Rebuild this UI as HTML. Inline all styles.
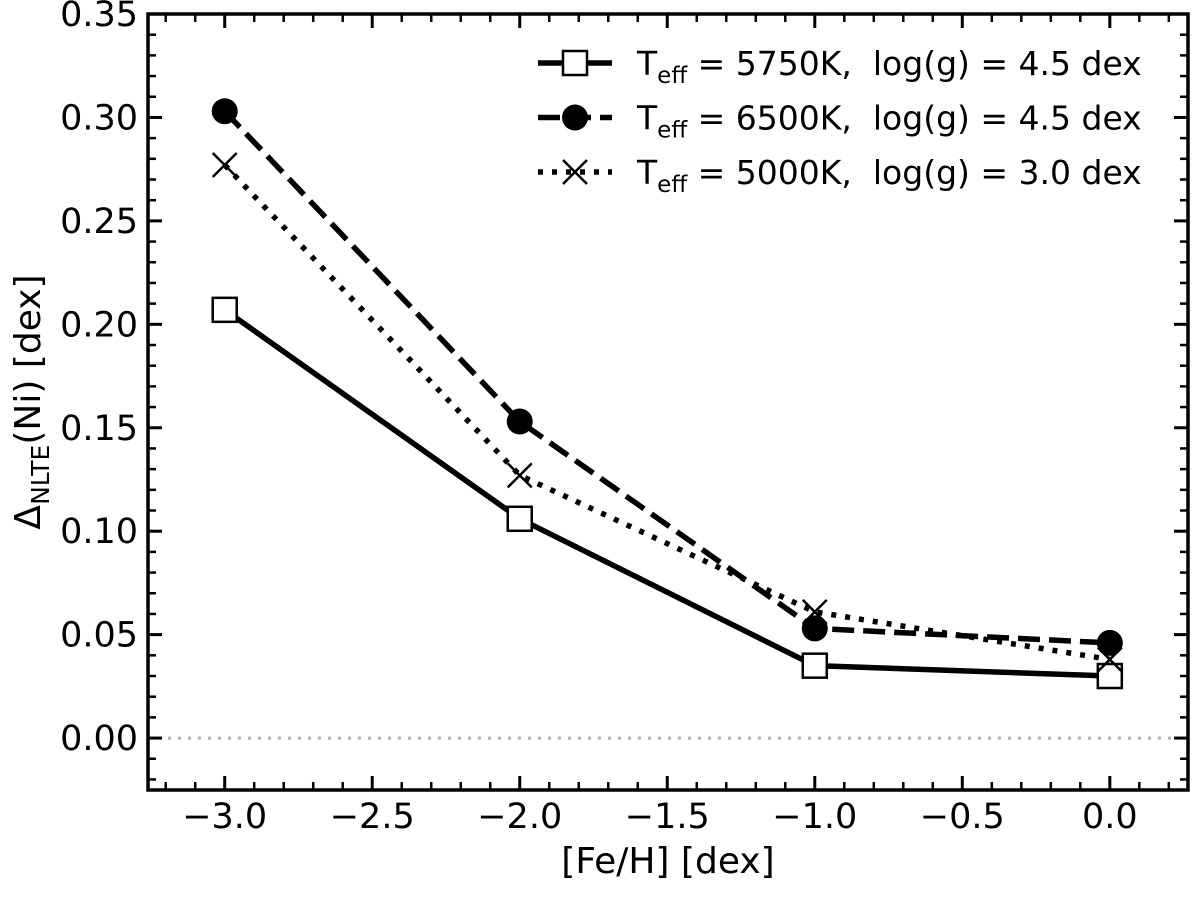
<!DOCTYPE html>
<html><head><meta charset="utf-8"><style>
body{margin:0;background:#fff}
svg text{font-family:"DejaVu Sans","Liberation Sans",sans-serif;fill:#000}
</style></head><body>
<svg id="chart" width="1200" height="892" viewBox="0 0 1200 892" xmlns="http://www.w3.org/2000/svg">
<g id="axes"></g>
<g id="series"></g>
<g id="legend"></g>
</svg>
<script>
const feh = [-3.0, -2.0, -1.0, 0.0];
const s5750 = [0.207, 0.106, 0.035, 0.030];
const s6500 = [0.303, 0.153, 0.053, 0.046];
const s5000 = [0.277, 0.127, 0.061, 0.038];
const xTicks = [-3.0, -2.5, -2.0, -1.5, -1.0, -0.5, 0.0];
const yTicks = [0.00, 0.05, 0.10, 0.15, 0.20, 0.25, 0.30, 0.35];

const L=148,R=1188,T=14,B=790;
const x0=-3.26,x1=0.265,y0=-0.0251,y1=0.35;
const X=v=>L+(v-x0)/(x1-x0)*(R-L);
const Y=v=>B-(v-y0)/(y1-y0)*(B-T);
const NS="http://www.w3.org/2000/svg";
function mk(tag,attrs,parent){const e=document.createElementNS(NS,tag);for(const k in attrs)e.setAttribute(k,attrs[k]);parent.appendChild(e);return e;}
const ax=document.getElementById('axes'),sg=document.getElementById('series'),lg=document.getElementById('legend');

let z=mk('line',{x1:L,x2:R,y1:Y(0),y2:Y(0),stroke:'#b0b0b0','stroke-width':3,'stroke-dasharray':'3 7'},ax);


for(let i=-33;i<=2;i++){const v=i/10,x=X(v);if(x<L||x>R)continue;
 mk('line',{x1:x,x2:x,y1:B,y2:B-8,stroke:'#000','stroke-width':2.5},ax);
 mk('line',{x1:x,x2:x,y1:T,y2:T+8,stroke:'#000','stroke-width':2.5},ax);}
for(let i=-2;i<=35;i++){const v=i/100,y=Y(v);if(y<T||y>B)continue;
 mk('line',{x1:L,x2:L+8,y1:y,y2:y,stroke:'#000','stroke-width':2.5},ax);
 mk('line',{x1:R,x2:R-8,y1:y,y2:y,stroke:'#000','stroke-width':2.5},ax);}
xTicks.forEach(v=>{const x=X(v);
 mk('line',{x1:x,x2:x,y1:B,y2:B-14,stroke:'#000','stroke-width':3},ax);
 mk('line',{x1:x,x2:x,y1:T,y2:T+14,stroke:'#000','stroke-width':3},ax);
 const t=mk('text',{x:x,y:B+38,'font-size':35,'text-anchor':'middle'},ax);
 t.textContent=(v<0?'\u2212':'')+Math.abs(v).toFixed(1);
 
 });
yTicks.forEach(v=>{const y=Y(v);
 mk('line',{x1:L,x2:L+14,y1:y,y2:y,stroke:'#000','stroke-width':3},ax);
 mk('line',{x1:R,x2:R-14,y1:y,y2:y,stroke:'#000','stroke-width':3},ax);
 const t=mk('text',{x:L-10,y:y+12,'font-size':35,'text-anchor':'end'},ax);
 t.textContent=v.toFixed(2);
 
 });
let fr=mk('rect',{x:L,y:T,width:R-L,height:B-T,fill:'none',stroke:'#000','stroke-width':3.5},ax);


let xt=mk('text',{x:(L+R)/2,y:873,'font-size':36,'text-anchor':'middle'},ax);
xt.textContent='[Fe/H] [dex]';


let yt=mk('text',{transform:'translate(40,'+(T+B)/2+') rotate(-90)','font-size':36,'text-anchor':'middle'},ax);
yt.innerHTML='\u0394<tspan font-size="25" dy="9">NLTE</tspan><tspan dy="-9">(Ni) [dex]</tspan>';



function marker(type,x,y,p){
 if(type==='sq')return mk('rect',{x:x-12,y:y-12,width:24,height:24,fill:'#fff',stroke:'#000','stroke-width':2.5},p);
 if(type==='ci')return mk('circle',{cx:x,cy:y,r:13,fill:'#000'},p);
 return mk('path',{d:`M${x-12},${y-12}L${x+12},${y+12}M${x-12},${y+12}L${x+12},${y-12}`,stroke:'#000','stroke-width':2.5,fill:'none'},p);}
const defs=[
 {vals:s5750,dash:'',m:'sq',name:'series-5750k',lab:'5750K',lg:'4.5'},
 {vals:s6500,dash:'22 9',m:'ci',name:'series-6500k',lab:'6500K',lg:'4.5'},
 {vals:s5000,dash:'5 9',m:'x',name:'series-5000k',lab:'5000K',lg:'3.0'}];
defs.forEach((d,k)=>{
 const g=mk('g',{},sg);
 
 
 mk('polyline',{points:feh.map((f,i)=>X(f)+','+Y(d.vals[i])).join(' '),fill:'none',stroke:'#000','stroke-width':5.5,'stroke-dasharray':d.dash},g);
 feh.forEach((f,i)=>{const m=marker(d.m,X(f),Y(d.vals[i]),g);
  
  });
 const ly=63+k*54.5;
 const e=mk('g',{},lg);
 
 
 mk('line',{x1:538,x2:612,y1:ly,y2:ly,stroke:'#000','stroke-width':5.5,'stroke-dasharray':d.dash},e);
 marker(d.m,575,ly,e);
 const t=mk('text',{x:637,y:ly+12,'font-size':33},e);
 t.innerHTML='T<tspan font-size="23" dy="8">eff</tspan><tspan dy="-8"> = '+d.lab+',\u00a0 log(g) = '+d.lg+' dex</tspan>';
});
</script>
</body></html>
